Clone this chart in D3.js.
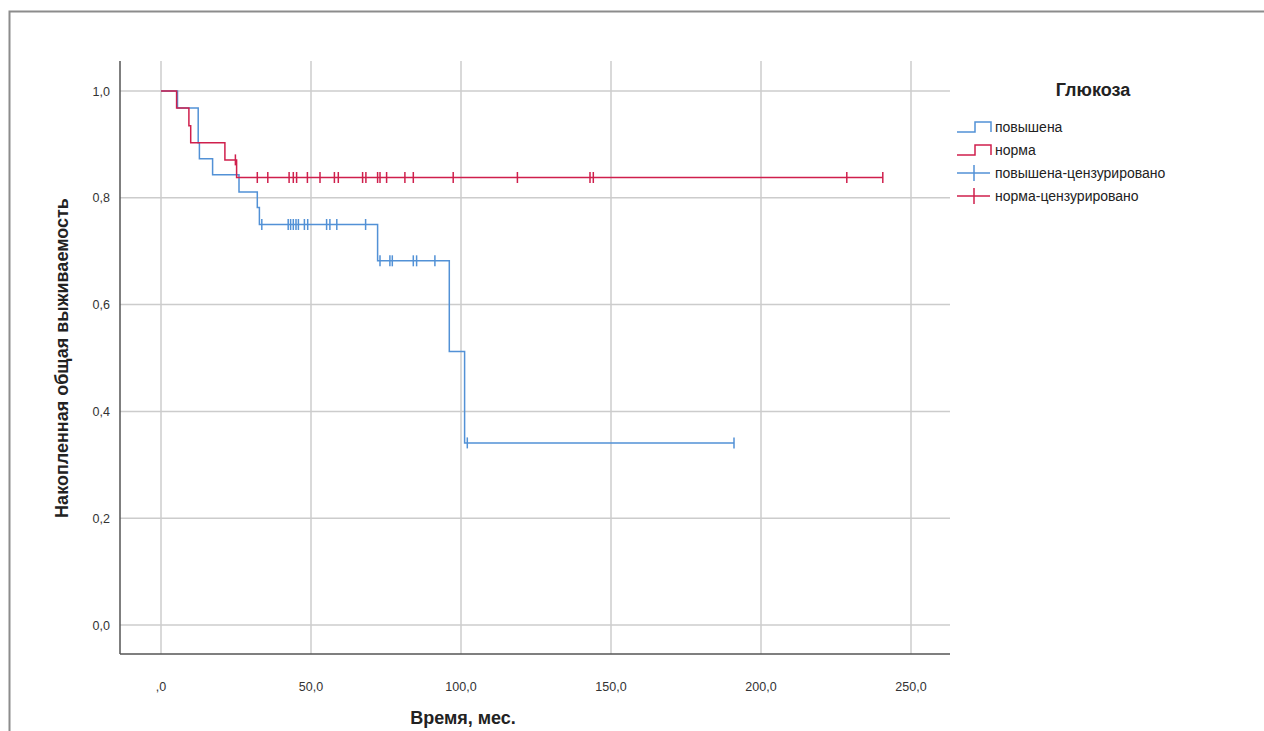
<!DOCTYPE html>
<html>
<head>
<meta charset="utf-8">
<script src="https://cdn.jsdelivr.net/npm/d3@7"></script>
<style>
  body { margin: 0; background: #fff; }
  svg text { font-family: Arial, "Liberation Sans", sans-serif; }
</style>
</head>
<body>
<svg id="chart" width="1264" height="731"></svg>
<script>
// step curves: time (months) and cumulative survival after each step
const highTimes = [0, 5.5, 12.4, 12.8, 17.2, 26.0, 32.1, 32.8, 72.2, 96.1, 101.2, 191.0];
const highSurv  = [1.0, 0.968, 0.903, 0.873, 0.843, 0.811, 0.782, 0.750, 0.682, 0.512, 0.341, 0.341];
const highCens  = [33.6, 42.4, 43.2, 44.1, 45.0, 45.8, 47.8, 48.9, 55.2, 56.3, 58.6, 68.2,
                   73.0, 76.3, 77.1, 84.1, 85.2, 91.3, 102.1, 191.0];

const normTimes = [0, 5.2, 9.3, 9.9, 21.3, 25.2, 240.6];
const normSurv  = [1.0, 0.968, 0.935, 0.903, 0.871, 0.838, 0.838];
const normCens  = [24.8, 32.1, 35.6, 42.7, 44.1, 45.2, 48.8, 53.0, 57.8, 59.1, 67.2, 68.3,
                   72.2, 73.0, 75.2, 81.3, 84.1, 97.4, 118.8, 143.0, 144.1, 228.6, 240.6];

const xTicks = [0, 50, 100, 150, 200, 250];
const yTicks = [0, 0.2, 0.4, 0.6, 0.8, 1.0];
const xTickLabels = [",0", "50,0", "100,0", "150,0", "200,0", "250,0"];
const yTickLabels = ["0,0", "0,2", "0,4", "0,6", "0,8", "1,0"];
const legendLabels = ["повышена", "норма", "повышена-цензурировано", "норма-цензурировано"];

const blue = "#5291d6";
const red = "#cf1f4c";

const svg = d3.select("#chart");

// outer frame
svg.append("rect")
    .attr("x", 9.5).attr("y", 11.5)
    .attr("width", 1264).attr("height", 740)
    .attr("fill", "none").attr("stroke", "#8c8c8c").attr("stroke-width", 2);

const x = d3.scaleLinear().domain([0, 250]).range([161, 911]);
const y = d3.scaleLinear().domain([0, 1]).range([625, 91]);

const plotL = 120, plotR = 950, plotT = 61, plotB = 654;

// grid
svg.selectAll(".vgrid")
    .data(xTicks)
    .join("line")
    .attr("class", "vgrid")
    .attr("x1", d => x(d)).attr("x2", d => x(d))
    .attr("y1", plotT).attr("y2", plotB)
    .attr("stroke", "#cccccc").attr("stroke-width", 1.5);

svg.selectAll(".hgrid")
    .data(yTicks)
    .join("line")
    .attr("class", "hgrid")
    .attr("x1", plotL).attr("x2", plotR)
    .attr("y1", d => y(d)).attr("y2", d => y(d))
    .attr("stroke", "#cccccc").attr("stroke-width", 1.5);

// axes lines
svg.append("line").attr("x1", plotL).attr("x2", plotL).attr("y1", plotT).attr("y2", plotB)
    .attr("stroke", "#555").attr("stroke-width", 1.5);
svg.append("line").attr("x1", plotL).attr("x2", plotR).attr("y1", plotB).attr("y2", plotB)
    .attr("stroke", "#555").attr("stroke-width", 1.5);

// tick labels
svg.selectAll(".xlab")
    .data(xTicks)
    .join("text")
    .attr("class", "xlab")
    .attr("x", d => x(d)).attr("y", 691)
    .attr("text-anchor", "middle")
    .attr("font-size", 12.5).attr("fill", "#333")
    .text((d, i) => xTickLabels[i]);

svg.selectAll(".ylab")
    .data(yTicks)
    .join("text")
    .attr("class", "ylab")
    .attr("x", 110).attr("y", d => y(d) + 4.5)
    .attr("text-anchor", "end")
    .attr("font-size", 12.5).attr("fill", "#333")
    .text((d, i) => yTickLabels[i]);

// axis titles
svg.append("text")
    .attr("x", 463).attr("y", 724)
    .attr("text-anchor", "middle")
    .attr("font-size", 18).attr("font-weight", "bold").attr("fill", "#222")
    .text("Время, мес.");

svg.append("text")
    .attr("transform", "translate(68,358) rotate(-90)")
    .attr("text-anchor", "middle")
    .attr("font-size", 18).attr("font-weight", "bold").attr("fill", "#222")
    .text("Накопленная общая выживаемость");

// survival step lines
const line = d3.line()
    .x(d => x(d[0]))
    .y(d => y(d[1]))
    .curve(d3.curveStepAfter);

function drawCurve(times, surv, cens, color) {
    const pts = times.map((t, i) => [t, surv[i]]);
    svg.append("path")
        .datum(pts)
        .attr("d", line)
        .attr("fill", "none")
        .attr("stroke", color)
        .attr("stroke-width", 1.5);

    // survival at censor time
    const survAt = t => {
        let s = surv[0];
        times.forEach((tt, i) => { if (tt <= t) s = surv[i]; });
        return s;
    };
    svg.append("g").selectAll("line")
        .data(cens)
        .join("line")
        .attr("x1", d => x(d)).attr("x2", d => x(d))
        .attr("y1", d => y(survAt(d)) - 5.5)
        .attr("y2", d => y(survAt(d)) + 5.5)
        .attr("stroke", color)
        .attr("stroke-width", 1.5);
}

drawCurve(highTimes, highSurv, highCens, blue);
drawCurve(normTimes, normSurv, normCens, red);

// legend
svg.append("text")
    .attr("x", 1093).attr("y", 96)
    .attr("text-anchor", "middle")
    .attr("font-size", 18).attr("font-weight", "bold").attr("fill", "#222")
    .text("Глюкоза");

const legend = svg.append("g");
const legendColors = [blue, red, blue, red];
legendLabels.forEach((lab, i) => {
    const ly = 127 + i * 23;
    if (i < 2) {
        legend.append("path")
            .attr("d", `M957,${ly + 5}H975V${ly - 5}H991V${ly + 5}`)
            .attr("fill", "none").attr("stroke", legendColors[i]).attr("stroke-width", 1.5);
    } else {
        legend.append("line")
            .attr("x1", 957).attr("x2", 990).attr("y1", ly).attr("y2", ly)
            .attr("stroke", legendColors[i]).attr("stroke-width", 1.5);
        legend.append("line")
            .attr("x1", 974).attr("x2", 974).attr("y1", ly - 8).attr("y2", ly + 8)
            .attr("stroke", legendColors[i]).attr("stroke-width", 1.5);
    }
    legend.append("text")
        .attr("x", 995).attr("y", ly + 5)
        .attr("font-size", 14).attr("fill", "#222")
        .text(lab);
});
</script>
</body>
</html>
